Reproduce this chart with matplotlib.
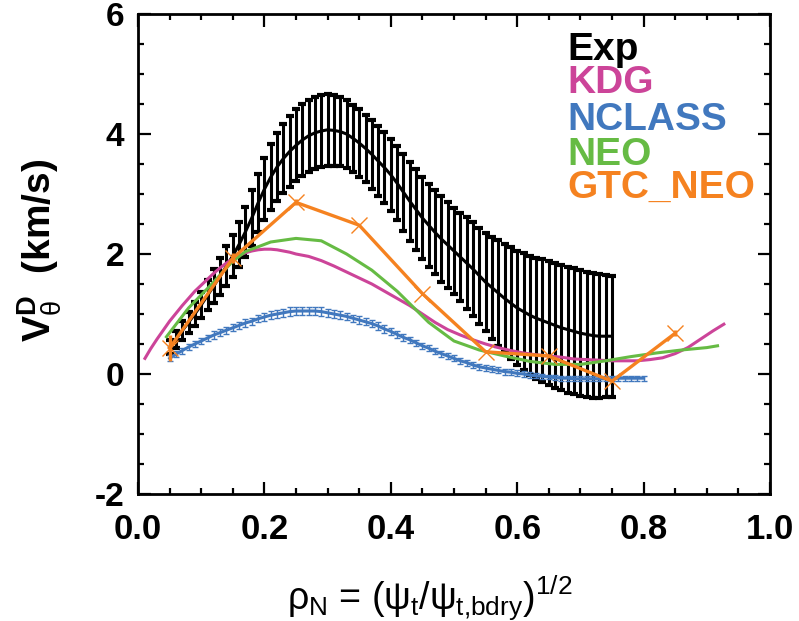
import numpy as np
import matplotlib
matplotlib.use('Agg')
import matplotlib.pyplot as plt
from matplotlib.ticker import MultipleLocator

plt.rcParams['font.family'] = ['Liberation Sans', 'DejaVu Sans']
plt.rcParams['mathtext.fontset'] = 'custom'
plt.rcParams['mathtext.rm'] = 'Liberation Sans'
plt.rcParams['mathtext.it'] = 'Liberation Sans'
plt.rcParams['mathtext.bf'] = 'Liberation Sans:bold'
plt.rcParams['axes.unicode_minus'] = False

# Exp: measured profile with error bars, every 0.01 from 0.05 to 0.75
exp_x = np.round(np.arange(0.05, 0.7501, 0.01), 2)
exp_v = [0.45, 0.58, 0.72, 0.86, 1.00, 1.15, 1.31, 1.47, 1.63, 1.80,
         1.97, 2.16, 2.37, 2.60, 2.85, 3.08, 3.28, 3.45, 3.59, 3.71,
         3.81, 3.90, 3.97, 4.02, 4.05, 4.07, 4.06, 4.04, 4.00, 3.93,
         3.85, 3.76, 3.66, 3.55, 3.44, 3.32, 3.18, 3.03, 2.88, 2.74,
         2.60, 2.48, 2.36, 2.25, 2.15, 2.05, 1.95, 1.85, 1.75, 1.64,
         1.53, 1.44, 1.35, 1.26, 1.18, 1.10, 1.04, 0.98, 0.93, 0.89,
         0.85, 0.81, 0.77, 0.74, 0.71, 0.68, 0.66, 0.64, 0.63, 0.63,
         0.63]
exp_err = [0.12, 0.14, 0.16, 0.18, 0.20, 0.22, 0.25, 0.28, 0.31, 0.33,
           0.35, 0.38, 0.42, 0.46, 0.49, 0.52, 0.55, 0.57, 0.58, 0.59,
           0.60, 0.60, 0.60, 0.60, 0.60, 0.60, 0.59, 0.58, 0.57, 0.56,
           0.56, 0.56, 0.57, 0.58, 0.59, 0.60, 0.62, 0.64, 0.66, 0.67,
           0.68, 0.69, 0.70, 0.71, 0.71, 0.72, 0.74, 0.76, 0.78, 0.80,
           0.82, 0.85, 0.88, 0.90, 0.93, 0.95, 0.97, 0.99, 1.01, 1.02,
           1.03, 1.04, 1.04, 1.05, 1.05, 1.05, 1.04, 1.04, 1.03, 1.02,
           1.01]

# NCLASS, every 0.01 from 0.05 to 0.80
ncl_x = np.round(np.arange(0.05, 0.8001, 0.01), 2)
ncl_v = [0.26, 0.33, 0.39, 0.45, 0.50, 0.55, 0.60, 0.65, 0.69, 0.73,
         0.77, 0.81, 0.85, 0.88, 0.92, 0.95, 0.98, 1.00, 1.02, 1.04,
         1.05, 1.05, 1.05, 1.05, 1.04, 1.02, 1.00, 0.98, 0.96, 0.93,
         0.90, 0.87, 0.84, 0.80, 0.75, 0.71, 0.66, 0.61, 0.57, 0.52,
         0.47, 0.43, 0.38, 0.34, 0.30, 0.26, 0.22, 0.19, 0.15, 0.12,
         0.10, 0.08, 0.06, 0.04, 0.03, 0.01, 0.00, -0.02, -0.03, -0.04,
         -0.05, -0.06, -0.07, -0.07, -0.08, -0.08, -0.08, -0.08, -0.08, -0.08,
         -0.08, -0.07, -0.07, -0.07, -0.07, -0.07]
ncl_err = [0.05, 0.05, 0.05, 0.05, 0.05, 0.05, 0.05, 0.06, 0.06, 0.06,
           0.06, 0.06, 0.06, 0.06, 0.06, 0.06, 0.07, 0.07, 0.07, 0.07,
           0.07, 0.07, 0.07, 0.07, 0.07, 0.07, 0.07, 0.07, 0.06, 0.06,
           0.06, 0.06, 0.06, 0.06, 0.06, 0.06, 0.06, 0.06, 0.05, 0.05,
           0.05, 0.05, 0.05, 0.05, 0.05, 0.05, 0.05, 0.05, 0.05, 0.05,
           0.05, 0.05, 0.05, 0.05, 0.05, 0.05, 0.05, 0.05, 0.04, 0.04,
           0.04, 0.04, 0.04, 0.04, 0.04, 0.04, 0.04, 0.04, 0.04, 0.04,
           0.04, 0.04, 0.04, 0.04, 0.04, 0.04]

# KDG
kdg_x = [0.011, 0.02, 0.03, 0.04, 0.05, 0.06, 0.07, 0.08, 0.09, 0.10,
         0.11, 0.12, 0.13, 0.14, 0.15, 0.16, 0.17, 0.18, 0.19, 0.20,
         0.21, 0.22, 0.23, 0.24, 0.25, 0.27, 0.29, 0.31, 0.33, 0.35,
         0.37, 0.39, 0.41, 0.43, 0.45, 0.47, 0.49, 0.51, 0.53, 0.55,
         0.57, 0.59, 0.61, 0.63, 0.65, 0.67, 0.69, 0.71, 0.73, 0.75,
         0.77, 0.79, 0.81, 0.83, 0.85, 0.87, 0.89, 0.91, 0.927]
kdg_v = [0.26, 0.42, 0.58, 0.73, 0.88, 1.01, 1.14, 1.26, 1.38, 1.48,
         1.58, 1.68, 1.77, 1.85, 1.92, 1.98, 2.02, 2.05, 2.07, 2.08,
         2.08, 2.07, 2.05, 2.03, 2.00, 1.96, 1.89, 1.80, 1.70, 1.60,
         1.50, 1.38, 1.26, 1.14, 1.00, 0.86, 0.74, 0.65, 0.57, 0.50,
         0.44, 0.39, 0.35, 0.32, 0.30, 0.28, 0.25, 0.24, 0.23, 0.22,
         0.22, 0.22, 0.24, 0.27, 0.34, 0.44, 0.58, 0.72, 0.83]

# NEO
neo_x = [0.045, 0.08, 0.115, 0.15, 0.17, 0.21, 0.25, 0.29, 0.33, 0.37,
         0.41, 0.46, 0.50, 0.54, 0.58, 0.62, 0.66, 0.70, 0.74, 0.78,
         0.82, 0.86, 0.90, 0.917]
neo_v = [0.62, 1.10, 1.48, 1.88, 2.04, 2.20, 2.26, 2.22, 2.00, 1.73,
         1.38, 0.86, 0.55, 0.40, 0.30, 0.21, 0.16, 0.16, 0.22, 0.29,
         0.35, 0.40, 0.44, 0.47]

# GTC_NEO
gtc_x = [0.05, 0.15, 0.25, 0.35, 0.45, 0.55, 0.65, 0.75, 0.85]
gtc_v = [0.43, 1.93, 2.86, 2.48, 1.34, 0.37, 0.30, -0.12, 0.68]
gtc_err = [0.22, 0.08, 0.05, 0.0, 0.0, 0.0, 0.0, 0.0, 0.05]

names = ['Exp', 'KDG', 'NCLASS', 'NEO', 'GTC_NEO']
colors = ['black', '#CC4499', '#4178BE', '#66BB44', '#F58220']

fig = plt.figure(figsize=(7.99, 6.21), dpi=100)
ax = fig.add_axes([138 / 799, 1 - 494 / 621, 632 / 799, 480 / 621])

ax.errorbar(exp_x, exp_v, yerr=exp_err, color='black', lw=2.2,
            elinewidth=2.2, capsize=3, capthick=3, zorder=3)
ax.plot(kdg_x, kdg_v, color=colors[1], lw=2.2, zorder=4)
ax.errorbar(ncl_x, ncl_v, yerr=ncl_err, color=colors[2], lw=2.2,
            elinewidth=1.0, capsize=2.5, capthick=1.0, zorder=4)
ax.plot(neo_x, neo_v, color=colors[3], lw=2.2, zorder=4)
ax.errorbar(gtc_x, gtc_v, yerr=gtc_err, color=colors[4], lw=2.4,
            elinewidth=2.4, capsize=0, marker='x', markersize=12,
            markeredgewidth=1.0, zorder=5)

ax.set_xlim(0, 1.0)
ax.set_ylim(-2, 6)
ax.xaxis.set_major_locator(MultipleLocator(0.2))
ax.xaxis.set_minor_locator(MultipleLocator(0.05))
ax.yaxis.set_major_locator(MultipleLocator(2))
ax.yaxis.set_minor_locator(MultipleLocator(0.5))
ax.set_xticks([0, 0.2, 0.4, 0.6, 0.8, 1.0])
ax.set_xticklabels(['0.0', '0.2', '0.4', '0.6', '0.8', '1.0'])
ax.tick_params(which='both', direction='in', top=True, right=True, width=1.6)
ax.tick_params(which='major', length=9)
ax.tick_params(which='minor', length=4.5)
ax.tick_params(axis='x', pad=14, labelsize=25)
ax.tick_params(axis='y', pad=10, labelsize=24)
for lab in ax.get_xticklabels() + ax.get_yticklabels():
    lab.set_fontweight('bold')
for sp in ax.spines.values():
    sp.set_linewidth(2)

# labels drawn as stacked coloured text
legend_y = [5.23, 4.68, 4.07, 3.48, 2.93]
for name, col, yy in zip(names, colors, legend_y):
    ax.text(0.68, yy, name, color=col, fontsize=28, fontweight='bold',
            va='baseline', ha='left')

fig.text(40 / 799, 1 - 250 / 621,
         r'$\mathbf{V}_{\theta}^{\mathbf{D}}$  (km/s)',
         rotation=90, ha='center', va='center', fontsize=28, fontweight='bold')
fig.text(430 / 799, 1 - 597 / 621,
         r'$\rho_{\mathrm{N}}$ = ($\psi_{\mathrm{t}}$/$\psi_{\mathrm{t{,}bdry}}$)$^{\mathrm{1/2}}$',
         ha='center', va='center', fontsize=27)

fig.savefig('out.png', dpi=100)
